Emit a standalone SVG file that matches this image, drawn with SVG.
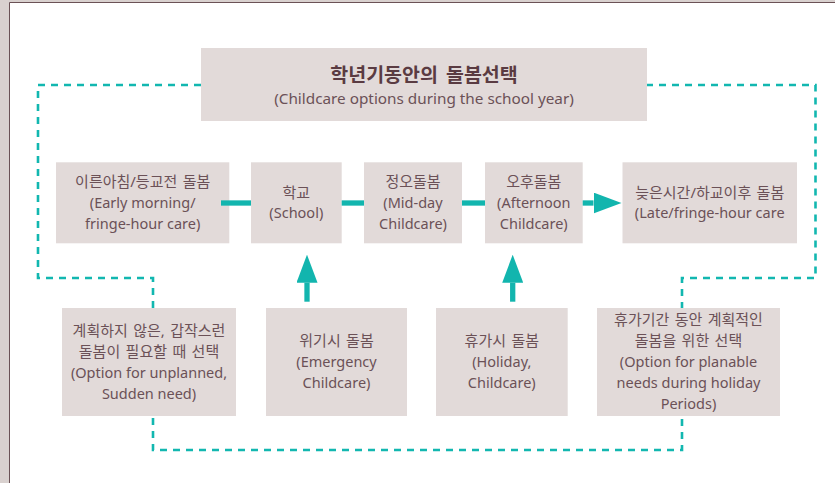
<svg xmlns="http://www.w3.org/2000/svg" width="835" height="483" viewBox="0 0 835 483">
<defs>
<style>
.box{fill:#e2dad9}
.t{font-family:"Noto Sans","Noto Sans CJK KR",sans-serif;fill:#6b5157;text-anchor:middle}
.k{font-size:15px;word-spacing:1.5px}
.e{font-size:14.5px}
.ttl{font-size:19.5px;font-weight:bold;fill:#5a3b42;word-spacing:3px}
.sub{font-size:15.3px}
.dash{fill:none;stroke:#12b7b0;stroke-width:2.6;stroke-dasharray:7 6}
.solid{fill:none;stroke:#12b5ae;stroke-width:5.3}
</style>
<marker id="ah" markerUnits="userSpaceOnUse" markerWidth="28" markerHeight="21" refX="0" refY="10.5" orient="auto">
<path d="M0,0 L28,10.5 L0,21 Z" fill="#12b5ae"/>
</marker>
</defs>
<rect x="0" y="0" width="835" height="483" fill="#d9d1cf"/>
<rect x="10" y="3" width="825" height="480" fill="#ffffff"/>
<path d="M9.5 483 V2.5 H835" fill="none" stroke="#6b5256" stroke-width="1"/>

<g id="dashed-connectors">
<path class="dash" d="M201 85 H38 V278 H153 V450 H682 V278 H815.5 V85 H647"/>
</g>

<g id="title">
<rect class="box" x="201" y="48" width="446" height="73"/>
<text class="t ttl" x="424" y="82">학년기동안의 돌봄선택</text>
<text class="t sub" x="424" y="103.5">(Childcare options during the school year)</text>
</g>

<g id="n-early">
<rect class="box" x="56" y="162.3" width="173.3" height="81"/>
<text class="t k" x="142.7" y="186.5">이른아침/등교전 돌봄</text>
<text class="t e" x="142.7" y="208">(Early morning/</text>
<text class="t e" x="142.7" y="229">fringe-hour care)</text>
</g>

<g id="n-school">
<rect class="box" x="251" y="162.3" width="90.7" height="81"/>
<text class="t k" x="296.3" y="197.5">학교</text>
<text class="t e" x="296.3" y="217.5">(School)</text>
</g>

<g id="n-midday">
<rect class="box" x="364" y="162.3" width="98" height="81"/>
<text class="t k" x="413" y="186.5">정오돌봄</text>
<text class="t e" x="413" y="208">(Mid-day</text>
<text class="t e" x="413" y="229">Childcare)</text>
</g>

<g id="n-afternoon">
<rect class="box" x="485" y="162.3" width="97.7" height="81"/>
<text class="t k" x="533.8" y="186.5">오후돌봄</text>
<text class="t e" x="533.8" y="208">(Afternoon</text>
<text class="t e" x="533.8" y="229">Childcare)</text>
</g>

<g id="n-late">
<rect class="box" x="622.5" y="162.3" width="174.5" height="81"/>
<text class="t k" x="709.7" y="197.5">늦은시간/하교이후 돌봄</text>
<text class="t e" x="709.7" y="218">(Late/fringe-hour care</text>
</g>

<g id="n-unplanned">
<rect class="box" x="62" y="308" width="174" height="108"/>
<text class="t k" x="149" y="335.5">계획하지 않은, 갑작스런</text>
<text class="t k" x="149" y="356.5">돌봄이 필요할 때 선택</text>
<text class="t e" x="149" y="377.5">(Option for unplanned,</text>
<text class="t e" x="149" y="398.5">Sudden need)</text>
</g>

<g id="n-emergency">
<rect class="box" x="266" y="308" width="141" height="108"/>
<text class="t k" x="336.5" y="346">위기시 돌봄</text>
<text class="t e" x="336.5" y="367">(Emergency</text>
<text class="t e" x="336.5" y="388">Childcare)</text>
</g>

<g id="n-holiday">
<rect class="box" x="436" y="308" width="131.7" height="108"/>
<text class="t k" x="501.8" y="346">휴가시 돌봄</text>
<text class="t e" x="501.8" y="367">(Holiday,</text>
<text class="t e" x="501.8" y="388">Childcare)</text>
</g>

<g id="n-planned">
<rect class="box" x="597" y="308" width="183" height="108"/>
<text class="t k" x="688.5" y="325">휴가기간 동안 계획적인</text>
<text class="t k" x="688.5" y="346">돌봄을 위한 선택</text>
<text class="t e" x="688.5" y="367">(Option for planable</text>
<text class="t e" x="688.5" y="388">needs during holiday</text>
<text class="t e" x="688.5" y="409">Periods)</text>
</g>

<g id="connectors">
<path class="solid" d="M221 203 H251"/>
<path class="solid" d="M341.7 203 H364"/>
<path class="solid" d="M462 203 H485"/>
<path class="solid" d="M582.7 203 H593.5" marker-end="url(#ah)"/>
<path class="solid" d="M307 301.7 V282.7" marker-end="url(#ah)"/>
<path class="solid" d="M512.7 301.7 V282.7" marker-end="url(#ah)"/>
</g>
</svg>
